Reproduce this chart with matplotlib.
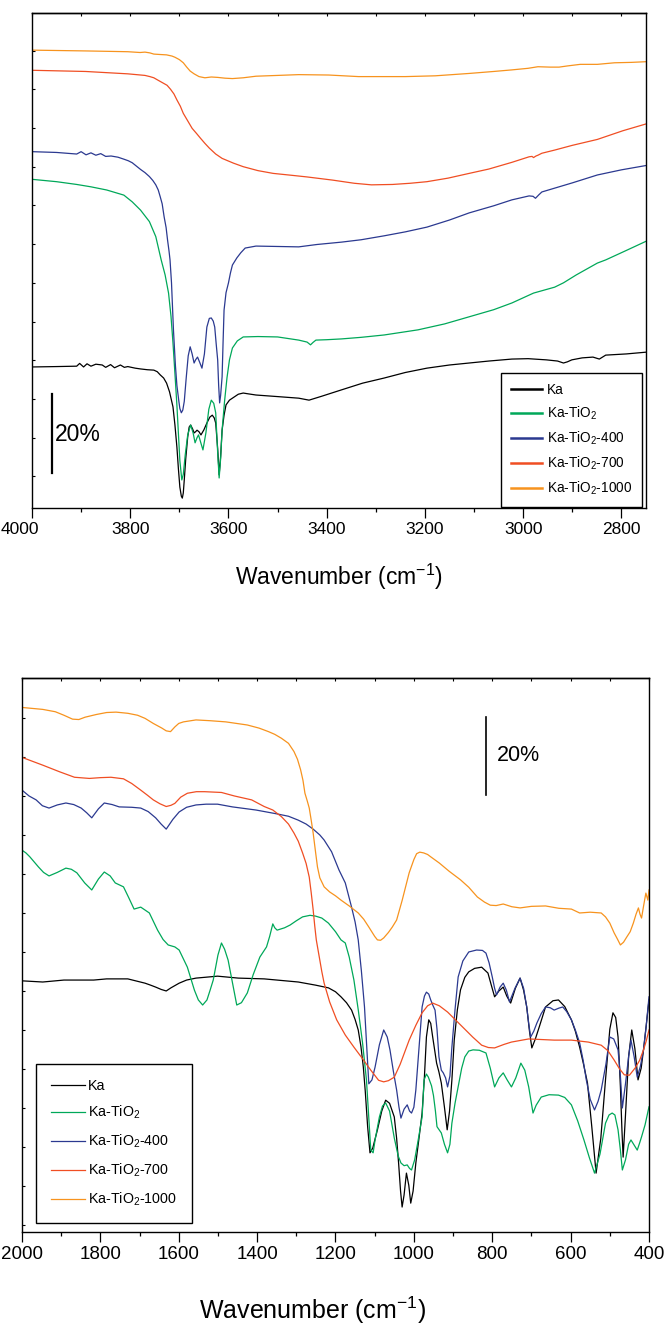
import numpy as np
import matplotlib
matplotlib.use("Agg")
import matplotlib.pyplot as plt
from matplotlib.ticker import MultipleLocator, FixedLocator, NullFormatter, FuncFormatter
import matplotlib.transforms as mtransforms

plt.rcParams['font.family'] = ['Liberation Sans', 'DejaVu Sans']
plt.rcParams['mathtext.fontset'] = 'custom'
plt.rcParams['mathtext.rm'] = 'Liberation Sans'
plt.rcParams['mathtext.it'] = 'Liberation Sans:italic'
plt.rcParams['mathtext.default'] = 'regular'

labels = ['Ka', 'Ka-TiO$_2$', 'Ka-TiO$_2$-400', 'Ka-TiO$_2$-700', 'Ka-TiO$_2$-1000']
colors = ['#000000', '#00a859', '#2b3990', '#f04e23', '#f7931e']

# ---------------- TOP PANEL (4000-2750 cm-1) ----------------
top_ka_wn = [4000, 3950, 3909, 3903, 3895, 3888, 3880, 3870, 3857, 3850, 3840, 3832, 3820, 3812,
             3805, 3790, 3779, 3765, 3752, 3745, 3739, 3732, 3726, 3720, 3713, 3709, 3705, 3702,
             3699, 3696, 3694, 3692, 3690, 3687, 3683, 3680, 3677, 3673, 3670, 3667, 3664, 3660,
             3656, 3650, 3644, 3638, 3633, 3629, 3626, 3622, 3619, 3616, 3613, 3609, 3605, 3598,
             3592, 3580, 3570, 3560, 3544, 3500, 3457, 3436, 3410, 3370, 3327, 3283, 3240, 3196,
             3150, 3110, 3070, 3023, 2990, 2953, 2930, 2918, 2910, 2901, 2880, 2858, 2845, 2832,
             2790, 2745]
top_ka_t = [35.7, 35.8, 35.9, 36.6, 35.7, 36.5, 35.9, 36.4, 36.2, 35.6, 36.3, 35.5, 36.2, 35.6,
            35.8, 35.4, 35.2, 35.0, 34.9, 34.5, 33.7, 32.9, 31.6, 29.4, 25.6, 21.0, 15.4, 10.0,
            5.3, 3.0, 2.5, 3.8, 7.1, 12.5, 18.0, 20.5, 21.0, 20.0, 19.0, 19.3, 19.7, 19.3,
            18.5, 19.8, 21.5, 23.0, 23.5, 22.8, 21.5, 15.0, 8.4, 13.0, 19.7, 23.5, 26.1, 27.3,
            27.8, 28.8, 29.1, 28.9, 28.6, 28.2, 27.8, 27.3, 28.3, 29.9, 31.6, 32.9, 34.3, 35.4,
            36.2, 36.7, 37.2, 37.7, 37.8, 37.5, 37.2, 36.7, 37.0, 37.5, 38.0, 38.2, 37.7, 38.7,
            39.0, 39.5]

top_tio2_wn = [4000, 3950, 3909, 3880, 3848, 3813, 3796, 3779, 3761, 3748, 3737, 3729, 3722, 3717,
               3713, 3709, 3705, 3702, 3699, 3695, 3692, 3688, 3683, 3677, 3672, 3668, 3664, 3661,
               3657, 3652, 3646, 3640, 3635, 3630, 3626, 3622, 3619, 3616, 3613, 3608, 3603, 3598,
               3592, 3582, 3570, 3540, 3500, 3457, 3440, 3433, 3428, 3422, 3400, 3370, 3330, 3283,
               3214, 3160, 3110, 3060, 3023, 2979, 2936, 2918, 2892, 2849, 2832, 2790, 2745]
top_tio2_t = [83.2, 82.6, 81.9, 81.3, 80.5, 79.2, 77.5, 75.4, 72.5, 68.7, 62.8, 59.0, 54.4, 48.5,
              41.8, 34.0, 26.0, 19.0, 12.0, 7.1, 8.5, 13.5, 18.5, 21.0, 19.0, 16.5, 17.8, 18.5,
              16.8, 14.7, 19.0, 25.0, 27.3, 26.5, 24.1, 14.0, 7.6, 12.5, 19.7, 27.0, 33.0, 37.5,
              40.5, 42.3, 43.3, 43.4, 43.3, 42.5, 42.0, 41.3, 41.9, 42.5, 42.6, 42.8, 43.2, 43.8,
              45.1, 46.6, 48.4, 50.2, 51.9, 54.4, 55.9, 57.0, 59.0, 62.0, 62.8, 65.2, 67.8]

top_400_wn = [4000, 3950, 3909, 3900, 3890, 3880, 3870, 3860, 3850, 3839, 3825, 3813, 3804, 3796,
              3788, 3779, 3770, 3761, 3754, 3748, 3743, 3739, 3735, 3731, 3727, 3724, 3721, 3719,
              3716, 3712, 3708, 3705, 3701, 3699, 3696, 3693, 3690, 3686, 3682, 3678, 3674, 3670,
              3667, 3663, 3659, 3654, 3649, 3644, 3639, 3635, 3631, 3628, 3625, 3622, 3620, 3618,
              3616, 3613, 3611, 3609, 3605, 3600, 3596, 3592, 3583, 3575, 3566, 3544, 3500, 3457,
              3420, 3370, 3330, 3283, 3240, 3196, 3150, 3110, 3060, 3023, 2988, 2980, 2975, 2968,
              2962, 2900, 2849, 2800, 2745]
top_400_t = [90.2, 90.0, 89.6, 90.2, 89.4, 89.9, 89.3, 89.7, 89.0, 89.1, 88.8, 88.3, 87.9, 87.4,
             86.6, 85.7, 84.9, 83.9, 82.9, 81.8, 80.5, 78.8, 77.0, 73.7, 71.0, 67.8, 65.0, 62.8,
             57.0, 45.0, 36.0, 31.0, 27.0, 25.2, 24.1, 24.8, 27.0, 33.0, 38.5, 40.8, 39.0, 36.7,
             37.5, 38.2, 37.0, 35.4, 39.0, 45.8, 48.0, 48.1, 47.3, 45.8, 41.5, 37.5, 31.0, 26.6,
             28.5, 33.2, 42.0, 50.1, 54.5, 57.0, 59.5, 61.5, 63.3, 64.6, 65.8, 66.3, 66.2, 66.1,
             66.7, 67.3, 67.9, 68.9, 69.9, 71.1, 72.9, 74.7, 76.5, 78.0, 79.0, 78.9, 78.4, 79.3,
             80.0, 82.3, 84.3, 85.6, 86.8]

top_700_wn = [4000, 3891, 3805, 3770, 3760, 3752, 3745, 3735, 3725, 3718, 3711, 3705, 3698, 3692,
              3683, 3674, 3665, 3657, 3648, 3639, 3626, 3613, 3590, 3570, 3540, 3509, 3470, 3440,
              3388, 3344, 3309, 3266, 3230, 3196, 3153, 3110, 3070, 3023, 2988, 2982, 2979, 2974,
              2970, 2962, 2936, 2900, 2849, 2797, 2745]
top_700_t = [110.8, 110.5, 109.9, 109.5, 109.2, 108.9, 108.4, 107.7, 107.0, 106.0, 104.8, 103.3,
             101.7, 99.9, 98.0, 96.1, 94.8, 93.6, 92.3, 91.1, 89.6, 88.5, 87.3, 86.4, 85.4, 84.7,
             84.2, 83.8, 83.0, 82.2, 81.8, 81.9, 82.2, 82.6, 83.5, 84.7, 85.8, 87.5, 88.9, 89.0,
             88.7, 89.1, 89.3, 89.8, 90.6, 91.8, 93.3, 95.5, 97.4]

top_1000_wn = [4000, 3891, 3805, 3780, 3770, 3760, 3752, 3740, 3726, 3715, 3709, 3700, 3692, 3685,
               3678, 3670, 3660, 3648, 3635, 3622, 3607, 3592, 3570, 3544, 3500, 3457, 3396, 3335,
               3290, 3240, 3179, 3110, 3060, 3023, 2990, 2970, 2945, 2927, 2910, 2884, 2849, 2814,
               2780, 2745]
top_1000_t = [115.9, 115.7, 115.5, 115.3, 115.4, 115.2, 114.9, 114.8, 114.7, 114.4, 114.1, 113.5,
              112.7, 111.6, 110.6, 109.9, 109.2, 108.9, 109.1, 109.0, 108.8, 108.7, 108.9, 109.3,
              109.5, 109.7, 109.6, 109.2, 109.2, 109.2, 109.4, 110.0, 110.5, 110.9, 111.3, 111.7,
              111.6, 111.6, 111.9, 112.3, 112.3, 112.7, 112.8, 113.0]

# ---------------- BOTTOM PANEL (2000-400 cm-1) ----------------
bot_ka_wn = [2000, 1947, 1893, 1817, 1784, 1730, 1686, 1672, 1659, 1645, 1632, 1620, 1599, 1580,
             1556, 1501, 1448, 1382, 1295, 1251, 1218, 1200, 1186, 1172, 1159, 1150, 1142, 1135,
             1129, 1124, 1118, 1112, 1105, 1093, 1082, 1072, 1062, 1050, 1044, 1039, 1034, 1030,
             1025, 1019, 1013, 1008, 1002, 995, 987, 979, 973, 968, 962, 957, 952, 946, 942, 936,
             930, 922, 915, 909, 903, 897, 889, 881, 870, 860, 845, 827, 811, 803, 794, 783, 772,
             763, 753, 741, 729, 720, 712, 705, 699, 690, 680, 664, 645, 631, 615, 598, 588, 577,
             567, 557, 546, 535, 523, 511, 500, 492, 485, 479, 476, 473, 469, 466, 460, 452, 444,
             436, 428, 420, 414, 407, 400]
bot_ka_t = [64.4, 64.1, 64.6, 64.6, 64.9, 64.9, 63.8, 63.3, 62.8, 62.2, 61.8, 62.6, 63.8, 64.6,
            65.1, 65.6, 65.1, 64.9, 64.1, 63.3, 62.6, 61.6, 60.3, 58.8, 56.9, 54.5, 51.8, 47.5,
            42.3, 36.0, 27.0, 20.3, 21.5, 26.2, 31.0, 33.8, 33.0, 29.5, 24.0, 17.7, 10.5, 6.4,
            9.5, 15.1, 12.0, 7.4, 10.5, 17.7, 24.0, 30.5, 40.0, 50.0, 54.4, 53.5, 50.0, 46.0,
            43.3, 41.0, 38.2, 32.0, 26.2, 31.0, 39.0, 49.2, 57.0, 62.1, 65.3, 66.7, 67.6, 67.9,
            66.4, 63.5, 60.3, 61.8, 62.8, 60.5, 58.7, 62.5, 65.1, 62.0, 57.7, 51.5, 47.2, 49.5,
            52.6, 57.7, 59.3, 59.5, 57.8, 54.4, 51.5, 47.4, 43.0, 38.2, 27.0, 15.1, 24.0, 39.0,
            52.0, 56.2, 55.0, 50.0, 44.0, 37.2, 26.0, 19.2, 30.0, 45.0, 51.8, 47.0, 39.0, 42.0,
            46.7, 53.0, 59.5]

bot_tio2_wn = [2000, 1990, 1980, 1970, 1958, 1945, 1931, 1910, 1888, 1874, 1860, 1840, 1822,
               1805, 1790, 1775, 1762, 1741, 1728, 1714, 1697, 1675, 1654, 1640, 1627, 1610,
               1599, 1578, 1560, 1550, 1539, 1528, 1520, 1512, 1500, 1491, 1483, 1474, 1463,
               1452, 1440, 1425, 1410, 1393, 1376, 1368, 1360, 1355, 1349, 1330, 1316, 1300,
               1284, 1265, 1251, 1235, 1218, 1200, 1186, 1175, 1165, 1153, 1142, 1131, 1121,
               1115, 1110, 1104, 1099, 1088, 1080, 1072, 1062, 1050, 1040, 1033, 1025, 1017,
               1011, 1006, 998, 990, 979, 974, 968, 963, 955, 950, 945, 941, 930, 922, 914, 908,
               903, 895, 887, 878, 870, 860, 849, 833, 816, 805, 794, 783, 772, 762, 751, 740,
               727, 717, 707, 700, 696, 688, 675, 655, 631, 615, 598, 582, 566, 552, 539, 525,
               511, 502, 494, 487, 479, 473, 468, 460, 452, 446, 438, 430, 424, 419, 410, 400]
bot_tio2_t = [97.9, 97.2, 96.2, 95.0, 93.6, 92.2, 91.3, 92.2, 93.3, 93.0, 92.1, 89.5, 87.7, 90.5,
              92.3, 91.3, 89.5, 88.5, 85.8, 82.8, 83.3, 81.8, 77.4, 75.0, 73.6, 73.1, 72.3,
              67.9, 62.0, 59.5, 58.2, 59.5, 62.0, 64.6, 71.0, 74.1, 72.5, 69.7, 64.0, 58.2,
              58.8, 61.3, 66.0, 70.5, 73.1, 75.8, 79.0, 78.0, 77.4, 78.0, 78.7, 79.8, 80.8, 81.2,
              81.0, 80.5, 79.2, 77.0, 74.9, 74.1, 70.5, 64.6, 57.0, 48.5, 39.0, 29.0, 21.0, 20.3,
              23.6, 29.5, 32.3, 33.1, 31.0, 24.1, 19.5, 17.7, 17.0, 17.2, 16.3, 15.9, 18.5, 23.0,
              29.5, 39.0, 40.5, 39.7, 37.5, 35.0, 31.0, 27.0, 25.4, 22.5, 20.3, 22.5, 27.9, 33.0,
              37.2, 42.0, 44.9, 46.4, 46.7, 46.6, 45.9, 42.0, 37.2, 39.5, 40.8, 39.0, 37.2, 39.5,
              43.3, 41.5, 37.2, 33.0, 30.5, 32.5, 34.6, 35.2, 35.1, 34.5, 32.6, 28.5, 23.6, 19.0,
              15.1, 20.0, 27.9, 30.0, 30.5, 30.0, 26.2, 21.0, 15.9, 18.5, 22.5, 23.6, 22.3, 21.0,
              22.8, 24.4, 27.5, 32.1]

bot_400_wn = [2000, 1982, 1964, 1948, 1931, 1910, 1888, 1868, 1849, 1835, 1822, 1805, 1790, 1770,
              1752, 1720, 1697, 1678, 1659, 1645, 1632, 1615, 1599, 1580, 1556, 1530, 1501, 1463,
              1403, 1349, 1320, 1295, 1275, 1257, 1240, 1229, 1210, 1191, 1175, 1159, 1150, 1142,
              1134, 1126, 1120, 1115, 1107, 1099, 1088, 1077, 1068, 1061, 1052, 1044, 1038, 1033,
              1025, 1017, 1011, 1006, 1000, 995, 987, 979, 973, 968, 962, 957, 951, 946, 941, 936,
              930, 925, 919, 914, 908, 903, 895, 887, 875, 860, 840, 825, 816, 808, 800, 794, 789,
              780, 772, 764, 756, 742, 729, 720, 712, 707, 702, 694, 686, 675, 664, 652, 642, 630,
              620, 610, 598, 588, 577, 568, 560, 550, 539, 530, 522, 510, 500, 490, 479, 473, 468,
              460, 452, 446, 438, 430, 422, 414, 407, 400]
bot_400_t = [113.3, 111.8, 110.8, 109.3, 108.7, 109.5, 110.0, 109.6, 108.7, 107.5, 106.2, 108.5,
             110.0, 109.6, 109.0, 108.9, 108.7, 107.8, 106.2, 104.6, 103.3, 105.8, 107.7, 108.9,
             109.5, 109.7, 109.7, 109.0, 108.2, 107.2, 106.6, 105.6, 104.6, 103.3, 101.8, 100.5,
             97.5, 92.8, 89.5, 83.3, 79.5, 74.9, 67.0, 57.7, 47.0, 38.0, 39.0, 42.3, 48.0, 51.8,
             50.0, 46.7, 41.0, 36.4, 32.0, 29.2, 31.5, 32.6, 31.0, 30.5, 32.0, 36.4, 47.0, 57.7,
             60.5, 61.5, 61.0, 59.5, 58.0, 56.9, 52.0, 44.9, 41.5, 40.8, 39.5, 37.2, 40.0, 47.4,
             57.0, 65.4, 69.5, 71.8, 72.3, 72.2, 71.5, 69.0, 65.4, 62.5, 60.8, 62.8, 63.8, 62.0,
             59.0, 62.5, 65.1, 62.5, 57.7, 53.5, 50.0, 51.5, 53.6, 56.0, 57.7, 57.5, 56.9, 57.4,
             57.7, 56.5, 54.4, 51.8, 48.5, 44.0, 39.0, 34.0, 31.3, 33.5, 36.4, 43.0, 50.0, 49.5,
             46.7, 40.0, 31.8, 38.0, 45.0, 49.2, 45.0, 39.7, 42.5, 46.7, 53.0, 60.3]

bot_700_wn = [2000, 1947, 1904, 1866, 1828, 1800, 1773, 1741, 1720, 1697, 1680, 1665, 1648, 1632,
              1620, 1610, 1595, 1578, 1555, 1534, 1491, 1458, 1414, 1382, 1360, 1338, 1320, 1306,
              1295, 1284, 1275, 1267, 1262, 1257, 1253, 1249, 1244, 1240, 1235, 1229, 1215, 1197,
              1175, 1153, 1130, 1110, 1090, 1077, 1065, 1050, 1035, 1012, 995, 979, 965, 952, 935,
              914, 900, 881, 850, 827, 810, 794, 770, 751, 707, 642, 598, 555, 522, 505, 489, 475,
              463, 450, 435, 424, 414, 407, 400]
bot_700_t = [121.7, 119.7, 118.0, 116.6, 116.3, 116.5, 116.6, 116.2, 115.0, 113.3, 112.0, 110.8,
             109.8, 109.1, 109.4, 109.9, 111.5, 112.5, 112.9, 112.9, 112.7, 111.8, 110.8, 109.1,
             108.2, 106.5, 104.6, 102.3, 100.2, 97.2, 94.5, 91.0, 87.0, 82.6, 78.5, 74.9, 72.0,
             69.7, 66.8, 63.8, 59.0, 54.4, 50.5, 47.4, 44.3, 41.5, 38.9, 38.5, 38.8, 39.7, 43.0,
             49.2, 53.0, 56.2, 58.0, 58.7, 58.0, 56.4, 55.0, 53.1, 50.0, 47.9, 47.3, 47.2, 48.1,
             48.7, 49.5, 49.2, 49.2, 48.7, 47.9, 46.5, 44.1, 41.8, 40.3, 40.2, 42.1, 44.0, 46.7,
             49.0, 51.8]

bot_1000_wn = [2000, 1947, 1915, 1893, 1871, 1855, 1839, 1810, 1784, 1760, 1730, 1705, 1686, 1665,
               1643, 1632, 1621, 1610, 1600, 1588, 1556, 1520, 1480, 1425, 1395, 1371, 1355, 1338,
               1320, 1306, 1297, 1289, 1283, 1278, 1272, 1267, 1262, 1257, 1251, 1246, 1240, 1229,
               1215, 1200, 1186, 1165, 1142, 1128, 1115, 1100, 1093, 1085, 1077, 1065, 1055, 1044,
               1030, 1012, 1000, 993, 985, 975, 965, 957, 935, 910, 881, 860, 838, 820, 805, 790,
               772, 750, 729, 700, 664, 630, 598, 577, 550, 522, 511, 500, 489, 480, 473, 465,
               457, 448, 440, 433, 427, 423, 419, 414, 408, 403, 400]
bot_1000_t = [134.5, 134.0, 133.4, 132.5, 131.5, 131.4, 132.0, 132.7, 133.2, 133.3, 133.0, 132.5,
              131.7, 130.4, 129.2, 128.5, 128.3, 129.5, 130.4, 130.8, 131.3, 131.1, 130.8, 130.0,
              129.2, 128.3, 127.6, 126.6, 125.3, 123.2, 121.2, 118.5, 115.8, 112.5, 110.5, 108.7,
              105.6, 102.3, 97.5, 93.6, 90.8, 88.5, 87.2, 86.2, 85.1, 83.6, 81.8, 80.2, 78.2,
              75.8, 74.9, 74.8, 75.4, 76.8, 78.2, 80.0, 85.0, 92.1, 95.5, 97.0, 97.4, 97.2, 96.8,
              96.2, 94.6, 92.5, 90.3, 88.4, 85.9, 84.6, 83.8, 83.7, 84.1, 83.4, 83.1, 83.5, 83.6,
              83.0, 82.8, 81.8, 82.0, 81.8, 80.8, 79.2, 76.7, 75.0, 73.6, 74.3, 75.6, 77.0, 79.2,
              81.5, 83.1, 81.5, 80.5, 83.5, 86.9, 85.1, 87.7]

top_series = [(top_ka_wn, top_ka_t), (top_tio2_wn, top_tio2_t), (top_400_wn, top_400_t),
              (top_700_wn, top_700_t), (top_1000_wn, top_1000_t)]
bot_series = [(bot_ka_wn, bot_ka_t), (bot_tio2_wn, bot_tio2_t), (bot_400_wn, bot_400_t),
              (bot_700_wn, bot_700_t), (bot_1000_wn, bot_1000_t)]

W, H = 667, 1324
fig = plt.figure(figsize=(W / 100, H / 100), dpi=100)

def px_rect(l, r, t, b):
    return [l / W, 1 - b / H, (r - l) / W, (b - t) / H]

ax1 = fig.add_axes(px_rect(32, 646, 13, 508))
ax2 = fig.add_axes(px_rect(22, 649, 678, 1232))

MAJ_LEN, TICK_PAD = 7, 3

def style(ax, xlim, ylim, ytick_top, ytick_step, tick_fs):
    ax.set_xlim(*xlim)
    ax.set_ylim(*ylim)
    for s in ax.spines.values():
        s.set_linewidth(1.0)
    ax.xaxis.set_major_locator(MultipleLocator(200))
    ax.xaxis.set_minor_locator(MultipleLocator(100))
    ax.tick_params(axis='x', which='major', direction='out', length=MAJ_LEN, width=0.9,
                   labelsize=tick_fs, pad=TICK_PAD)
    ax.tick_params(axis='x', which='minor', direction='out', length=3, width=0.9)
    ax.yaxis.set_major_locator(FixedLocator(np.arange(ytick_top, 0, -ytick_step)))
    ax.tick_params(axis='y', which='both', direction='in', length=2.5, width=0.8,
                   left=True, right=False, labelleft=False)
    sec = ax.secondary_xaxis('top')
    sec.xaxis.set_major_locator(MultipleLocator(100))
    sec.xaxis.set_major_formatter(NullFormatter())
    sec.tick_params(axis='x', direction='in', length=2.5, width=0.8)
    sec.spines['top'].set_linewidth(1.0)

TOP_TICK_FS = 12.5
style(ax1, (4000, 2750), (0, 125.3), 115.8, 9.8, TOP_TICK_FS)
style(ax2, (2000, 400), (0, 142.05), 131.8, 10.0, 13.5)

# top panel: the "4000" label is pushed against the left image edge in the source figure
ax1.xaxis.set_major_formatter(FuncFormatter(lambda v, p: '' if abs(v - 4000) < 1e-6 else f'{v:.0f}'))
lab_tr = mtransforms.blended_transform_factory(fig.transFigure, ax1.transAxes) + \
    mtransforms.ScaledTranslation(0, -(MAJ_LEN + TICK_PAD) / 72, fig.dpi_scale_trans)
ax1.text(1 / W, 0, '4000', transform=lab_tr, ha='left', va='top', fontsize=TOP_TICK_FS)

for (wn, t), c, lab in zip(top_series, colors, labels):
    ax1.plot(wn, t, color=c, lw=0.9, label=lab)
for (wn, t), c, lab in zip(bot_series, colors, labels):
    ax2.plot(wn, t, color=c, lw=0.9, label=lab)

# scale bars
ax1.plot([3960, 3960], [8.9, 28.9], color='black', lw=1.6)
ax1.text(3953, 18.5, '20%', fontsize=16.5, va='center', ha='left')
ax2.plot([816, 816], [112.1, 132.1], color='black', lw=1.2)
ax2.text(788, 122.3, '20%', fontsize=15.5, va='center', ha='left')

leg1 = ax1.legend(loc='lower right', bbox_to_anchor=(0.9935, 0.002), fontsize=9.8,
                  frameon=True, fancybox=False, edgecolor='black', framealpha=1,
                  borderpad=0.75, labelspacing=0.55, handlelength=2.3, handletextpad=0.3,
                  borderaxespad=0)
leg1.get_frame().set_linewidth(1.0)
for h in leg1.get_lines():
    h.set_linewidth(1.8)

leg2 = ax2.legend(loc='lower left', bbox_to_anchor=(0.0223, 0.0162), fontsize=10.3,
                  frameon=True, fancybox=False, edgecolor='black', framealpha=1,
                  borderpad=1.05, labelspacing=0.8, handlelength=2.35, handletextpad=0.25,
                  borderaxespad=0)
leg2.get_frame().set_linewidth(1.0)

# axis labels
ax1.set_xlabel('Wavenumber (cm$^{-1}$)', fontsize=16.5)
ax1.xaxis.set_label_coords(0.5, -0.139)
ax1.xaxis.label.set_verticalalignment('center')
ax2.set_xlabel('Wavenumber (cm$^{-1}$)', fontsize=18)
ax2.xaxis.set_label_coords(0.464, -0.141)
ax2.xaxis.label.set_verticalalignment('center')

fig.savefig('out.png', dpi=100)
